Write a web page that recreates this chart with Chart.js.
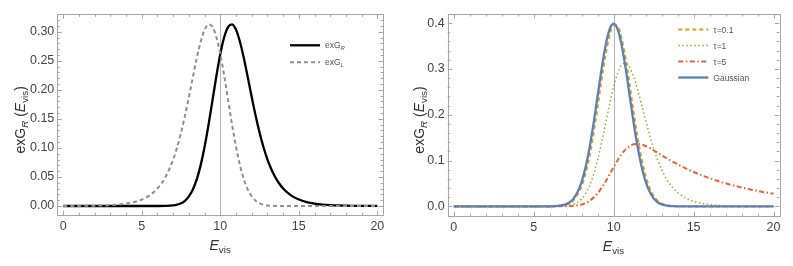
<!DOCTYPE html>
<html>
<head>
<meta charset="utf-8">
<script src="https://cdn.jsdelivr.net/npm/chart.js@4.4.0/dist/chart.umd.min.js"></script>
<style>
  body { margin: 0; background: #fff; }
  canvas { position: absolute; top: 0; }
</style>
</head>
<body>
<canvas id="chartL" width="396" height="266" style="left:0"></canvas>
<canvas id="chartR" width="397" height="266" style="left:396px"></canvas>
<script>
// Sample positions on the E_vis axis (shared by every curve)
const xs = [0, 1, 2, 3, 4, 5, 5.5, 6, 6.5,
    7, 7.25, 7.5, 7.75, 8, 8.25, 8.5, 8.75, 9, 9.25, 9.5, 9.75, 10, 10.25, 10.5, 10.75,
    11, 11.25, 11.5, 11.75, 12, 12.25, 12.5, 12.75, 13, 13.25, 13.5, 13.75, 14,
    14.5, 15, 15.5, 16, 16.5, 17, 17.5, 18, 18.5, 19, 19.5, 20];

// Left panel: right- and left-skewed curves
const exGR = [0, 0, 0, 0, 0, 0, 0.000003, 0.000026, 0.000186,
    0.00105, 0.00228, 0.00467, 0.00902, 0.01645, 0.02827, 0.04588, 0.07034, 0.1020, 0.1398, 0.1816, 0.2237, 0.2616, 0.2910, 0.3085, 0.3125,
    0.3033, 0.2828, 0.2544, 0.2216, 0.1877, 0.1554, 0.1263, 0.1012, 0.0802, 0.0632, 0.0495, 0.0387, 0.0302,
    0.0183, 0.0111, 0.0067, 0.0041, 0.0025, 0.0015, 0.0009, 0.00055, 0.00034, 0.0002, 0.00012, 0.00007];
const exGL = [0.00007, 0.0002, 0.00055, 0.0015, 0.0041, 0.0111, 0.0183, 0.0302, 0.0495,
    0.0802, 0.1012, 0.1263, 0.1554, 0.1877, 0.2216, 0.2544, 0.2828, 0.3033, 0.3125, 0.3085, 0.2910, 0.2616, 0.2237, 0.1816, 0.1398,
    0.1020, 0.0703, 0.0459, 0.0283, 0.0165, 0.0090, 0.0047, 0.0023, 0.00105, 0.00045, 0.00019, 0.00007, 0.00003,
    0, 0, 0, 0, 0, 0, 0, 0, 0, 0, 0, 0];

// Right panel: different tau values and the plain Gaussian
const tau01 = [0, 0, 0, 0, 0, 0, 0.00001, 0.0001, 0.00065,
    0.0034, 0.0071, 0.0140, 0.0258, 0.0447, 0.0729, 0.1118, 0.1610, 0.2181, 0.2776, 0.3322, 0.3736, 0.3950, 0.3926, 0.3667, 0.3220,
    0.2658, 0.2063, 0.1504, 0.1031, 0.0665, 0.0403, 0.0229, 0.0123, 0.0062, 0.0029, 0.0013, 0.00054, 0.0002,
    0.00002, 0, 0, 0, 0, 0, 0, 0, 0, 0, 0, 0];
const tau1 = exGR.slice();
const tau5 = [0, 0, 0, 0, 0, 0, 0.000001, 0.000006, 0.000044,
    0.000255, 0.000562, 0.00117, 0.00229, 0.00423, 0.00741, 0.01227, 0.01926, 0.02868, 0.04055, 0.05456, 0.07000, 0.08585, 0.10092, 0.11408, 0.12448,
    0.13166, 0.13557, 0.13653, 0.13508, 0.13186, 0.12747, 0.12243, 0.11709, 0.11170, 0.10640, 0.10127, 0.09637, 0.09168,
    0.08296, 0.07506, 0.06792, 0.06146, 0.05561, 0.05032, 0.04553, 0.04119, 0.03728, 0.03373, 0.03052, 0.02761];
const gauss = [0, 0, 0, 0, 0, 0, 0.000016, 0.000134, 0.000873,
    0.00443, 0.00909, 0.01753, 0.03174, 0.05399, 0.08628, 0.12952, 0.18265, 0.24197, 0.30114, 0.35207, 0.38667, 0.39894, 0.38667, 0.35207, 0.30114,
    0.24197, 0.18265, 0.12952, 0.08628, 0.05399, 0.03174, 0.01753, 0.00909, 0.00443, 0.00203, 0.00087, 0.00035, 0.00013,
    0.000016, 0, 0, 0, 0, 0, 0, 0, 0, 0, 0, 0];

// Tick labels
const xTicks = [0, 5, 10, 15, 20];
const yTicksL = [0, 0.05, 0.10, 0.15, 0.20, 0.25, 0.30];
const yTicksR = [0, 0.1, 0.2, 0.3, 0.4];

const FONT = '"Liberation Sans", Arial, sans-serif';
const toPoints = (ys) => xs.map((x, i) => ({ x: x, y: ys[i] }));

// Text with italic parts and subscripts
function drawParts(ctx, parts, x, y, size, align) {
    const fontOf = (p) => (p.it ? 'italic ' : '') + (p.sub ? size * 0.7 : size) + 'px ' + FONT;
    let w = 0;
    parts.forEach((p) => { ctx.font = fontOf(p); w += ctx.measureText(p.t).width; });
    let cx = align === 'center' ? x - w / 2 : x;
    ctx.textAlign = 'left';
    ctx.textBaseline = 'alphabetic';
    parts.forEach((p) => {
        ctx.font = fontOf(p);
        ctx.fillText(p.t, cx, y + (p.sub ? size * 0.22 : 0));
        cx += ctx.measureText(p.t).width;
    });
}

// Mathematica-like frame: border, inward ticks, reference line, titles and legend
const mmaFrame = {
    id: 'mmaFrame',
    beforeDatasetsDraw(chart, args, opts) {
        const { ctx, chartArea: a, scales: { x } } = chart;
        const px = Math.round(x.getPixelForValue(opts.refX)) + 0.5;
        ctx.save();
        ctx.strokeStyle = '#b4b4b4';
        ctx.lineWidth = 1;
        ctx.beginPath();
        ctx.moveTo(px, a.top);
        ctx.lineTo(px, a.bottom);
        ctx.stroke();
        ctx.restore();
    },
    afterDatasetsDraw(chart, args, opts) {
        const { ctx, chartArea: a, scales: { x, y } } = chart;
        ctx.save();
        ctx.strokeStyle = '#a6a6a6';
        ctx.lineWidth = 1;
        ctx.strokeRect(Math.round(a.left) + 0.5, Math.round(a.top) + 0.5,
            Math.round(a.right - a.left), Math.round(a.bottom - a.top));

        // x ticks (every 1, major every 5)
        ctx.beginPath();
        for (let v = 0; v <= 20; v++) {
            const p = Math.round(x.getPixelForValue(v)) + 0.5;
            const len = v % 5 === 0 ? 4.5 : 2.5;
            ctx.moveTo(p, a.bottom); ctx.lineTo(p, a.bottom - len);
            ctx.moveTo(p, a.top); ctx.lineTo(p, a.top + len);
        }
        // y ticks
        const n = Math.round(opts.yMax / opts.yMinor);
        for (let k = 0; k <= n; k++) {
            const v = k * opts.yMinor;
            if (v > y.max) break;
            const p = Math.round(y.getPixelForValue(v)) + 0.5;
            const len = k % 5 === 0 ? 4.5 : 2.5;
            ctx.moveTo(a.left, p); ctx.lineTo(a.left + len, p);
            ctx.moveTo(a.right, p); ctx.lineTo(a.right - len, p);
        }
        ctx.stroke();

        // axis titles
        ctx.fillStyle = '#333';
        drawParts(ctx, [{ t: 'E', it: 1 }, { t: 'vis', sub: 1 }],
            (a.left + a.right) / 2, a.bottom + opts.xTitleGap, 14, 'center');
        ctx.save();
        ctx.translate(opts.yTitleX, (a.top + a.bottom) / 2 + 5);
        ctx.rotate(-Math.PI / 2);
        drawParts(ctx, [{ t: 'exG' }, { t: 'R', sub: 1, it: 1 }, { t: ' (' }, { t: 'E', it: 1 },
            { t: 'vis', sub: 1 }, { t: ')' }], 0, 0, 14, 'center');
        ctx.restore();

        // legend
        opts.legend.forEach((item, i) => {
            const ds = chart.data.datasets[item.ds];
            const ly = a.top + opts.legendTop + i * opts.legendStep;
            ctx.save();
            ctx.strokeStyle = ds.borderColor;
            ctx.lineWidth = ds.borderWidth;
            ctx.setLineDash(ds.borderDash || []);
            ctx.beginPath();
            ctx.moveTo(a.right - opts.legendX, ly);
            ctx.lineTo(a.right - opts.legendX + 30, ly);
            ctx.stroke();
            ctx.restore();
            ctx.fillStyle = '#555';
            drawParts(ctx, item.parts, a.right - opts.legendX + 35, ly + 3, 8.5, 'left');
        });
        ctx.restore();
    }
};

function makeScales(yMin, yMax, yTicks, digits, yWidth, xHeight) {
    return {
        x: {
            type: 'linear', min: -0.38, max: 20.36,
            afterBuildTicks: (s) => { s.ticks = xTicks.map((v) => ({ value: v })); },
            afterFit: (s) => { s.height = xHeight; },
            ticks: { padding: 4, color: '#444', font: { family: FONT, size: 12.5 }, callback: (v) => v },
            grid: { display: false, drawTicks: false },
            border: { display: false }
        },
        y: {
            type: 'linear', min: yMin, max: yMax,
            afterBuildTicks: (s) => { s.ticks = yTicks.map((v) => ({ value: v })); },
            afterFit: (s) => { s.width = yWidth; },
            ticks: { padding: 3, color: '#444', font: { family: FONT, size: 12.5 }, callback: (v) => v.toFixed(digits) },
            grid: { display: false, drawTicks: false },
            border: { display: false }
        }
    };
}

const lineDefaults = { pointRadius: 0, fill: false, cubicInterpolationMode: 'monotone' };

// Left chart
new Chart(document.getElementById('chartL').getContext('2d'), {
    type: 'line',
    data: {
        datasets: [
            Object.assign({ label: 'exG_L', data: toPoints(exGL), borderColor: '#8f8f8f', borderWidth: 2, borderDash: [4, 3], order: 0 }, lineDefaults),
            Object.assign({ label: 'exG_R', data: toPoints(exGR), borderColor: '#000000', borderWidth: 2.3, order: 1 }, lineDefaults)
        ]
    },
    options: {
        responsive: false,
        animation: false,
        layout: { padding: { top: 14.3, right: 13, left: 0, bottom: 0 } },
        scales: makeScales(-0.016, 0.330, yTicksL, 2, 57.3, 50.7),
        plugins: {
            legend: { display: false },
            tooltip: { enabled: false },
            mmaFrame: {
                refX: 10, yMax: 0.33, yMinor: 0.01, xTitleGap: 35, yTitleX: 25,
                legendTop: 31, legendStep: 17, legendX: 93,
                legend: [
                    { ds: 1, parts: [{ t: 'exG' }, { t: 'R', sub: 1, it: 1 }] },
                    { ds: 0, parts: [{ t: 'exG' }, { t: 'L', sub: 1, it: 1 }] }
                ]
            }
        }
    },
    plugins: [mmaFrame]
});

// Right chart
new Chart(document.getElementById('chartR').getContext('2d'), {
    type: 'line',
    data: {
        datasets: [
            Object.assign({ label: 'Gaussian', data: toPoints(gauss), borderColor: '#5e81b5', borderWidth: 2.3, order: 0 }, lineDefaults),
            Object.assign({ label: 'τ=0.1', data: toPoints(tau01), borderColor: '#e19c24', borderWidth: 2, borderDash: [4, 3], order: 1 }, lineDefaults),
            Object.assign({ label: 'τ=1', data: toPoints(tau1), borderColor: '#8fb032', borderWidth: 1.5, borderDash: [1.5, 2.5], order: 2 }, lineDefaults),
            Object.assign({ label: 'τ=5', data: toPoints(tau5), borderColor: '#eb6235', borderWidth: 2, borderDash: [5, 2.5, 1.5, 2.5], order: 3 }, lineDefaults)
        ]
    },
    options: {
        responsive: false,
        animation: false,
        layout: { padding: { top: 14, right: 13.7, left: 0, bottom: 0 } },
        scales: makeScales(-0.021, 0.420, yTicksR, 1, 51.7, 50),
        plugins: {
            legend: { display: false },
            tooltip: { enabled: false },
            mmaFrame: {
                refX: 10, yMax: 0.42, yMinor: 0.02, xTitleGap: 35, yTitleX: 28,
                legendTop: 15.5, legendStep: 16, legendX: 101,
                legend: [
                    { ds: 1, parts: [{ t: 'τ=0.1' }] },
                    { ds: 2, parts: [{ t: 'τ=1' }] },
                    { ds: 3, parts: [{ t: 'τ=5' }] },
                    { ds: 0, parts: [{ t: 'Gaussian' }] }
                ]
            }
        }
    },
    plugins: [mmaFrame]
});
</script>
</body>
</html>
